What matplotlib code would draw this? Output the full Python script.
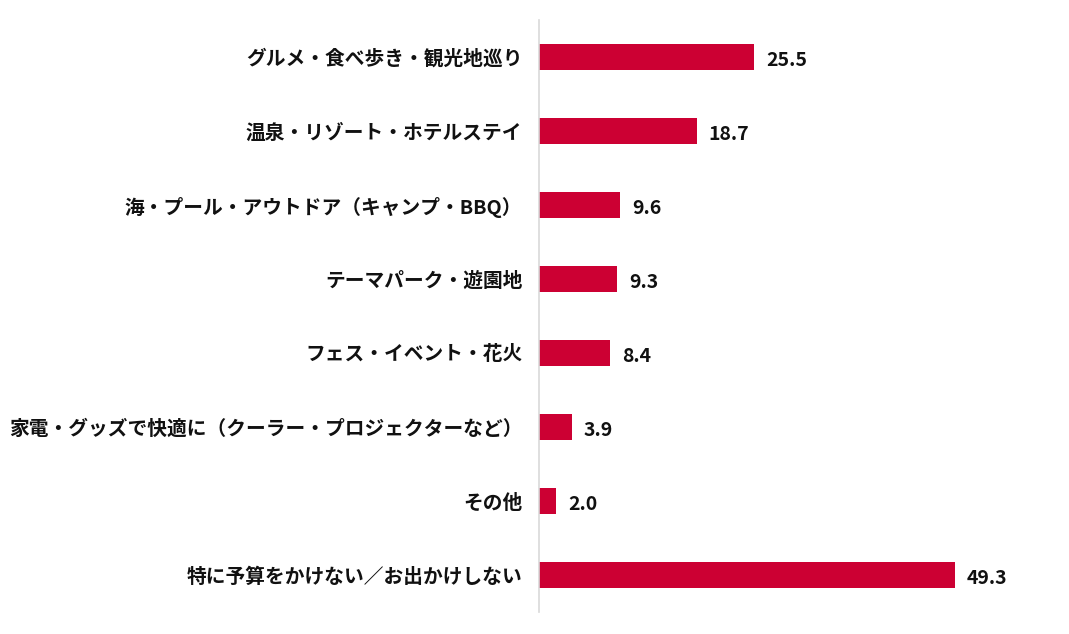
import matplotlib
matplotlib.use("Agg")
import matplotlib.pyplot as plt

plt.rcParams['font.family'] = ['Noto Sans CJK JP', 'DejaVu Sans']

categories = [
    "グルメ・食べ歩き・観光地巡り",
    "温泉・リゾート・ホテルステイ",
    "海・プール・アウトドア（キャンプ・BBQ）",
    "テーマパーク・遊園地",
    "フェス・イベント・花火",
    "家電・グッズで快適に（クーラー・プロジェクターなど）",
    "その他",
    "特に予算をかけない／お出かけしない",
]
values = [25.5, 18.7, 9.6, 9.3, 8.4, 3.9, 2.0, 49.3]
value_labels = ["25.5", "18.7", "9.6", "9.3", "8.4", "3.9", "2.0", "49.3"]

W, H = 1069, 634
fig = plt.figure(figsize=(W / 100, H / 100), dpi=100)
left_px, right_px, top_px, bottom_px = 539, 1045, 20, 612
ax = fig.add_axes([left_px / W, 1 - bottom_px / H, (right_px - left_px) / W, (bottom_px - top_px) / H])

y = list(range(len(categories)))
ax.barh(y, values, height=0.36, color="#CC0033")
ax.set_ylim(len(categories) - 0.5, -0.5)
ax.set_xlim(0, 60)

for yi, v, lab in zip(y, values, value_labels):
    ax.annotate(lab, (v, yi), xytext=(12, -3), textcoords="offset pixels",
                va="center", ha="left", fontsize=14, fontweight="bold", color="#111111")

ax.set_yticks(y)
ax.set_yticklabels(categories, fontsize=14.2, fontweight="bold", color="#111111")
ax.tick_params(axis="y", length=0, pad=12)
ax.set_xticks([])
for s in ["top", "right", "bottom"]:
    ax.spines[s].set_visible(False)
ax.spines["left"].set_color("#D9D9D9")
ax.spines["left"].set_linewidth(1.2)

fig.savefig("out.png", dpi=100)
